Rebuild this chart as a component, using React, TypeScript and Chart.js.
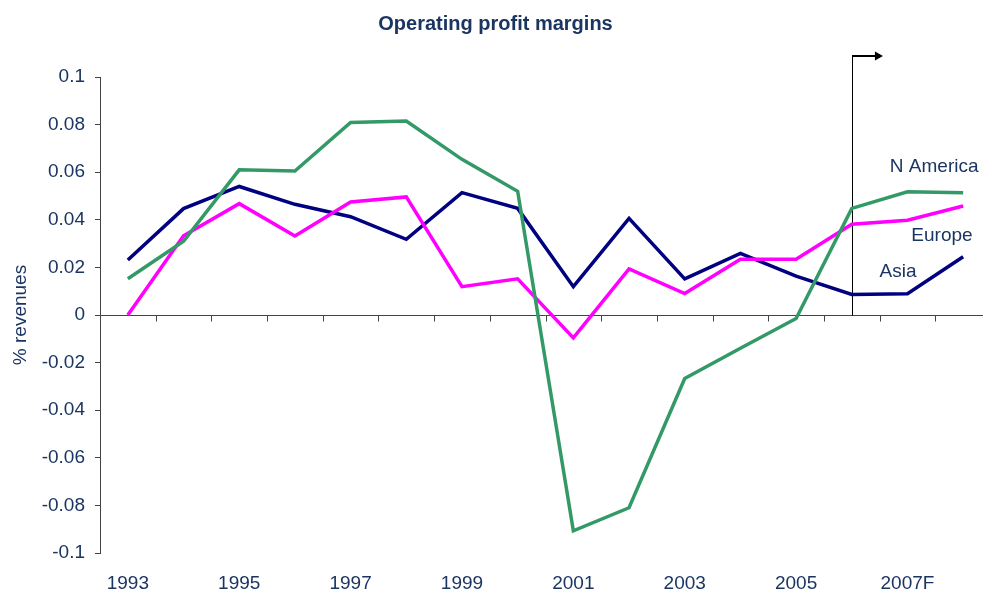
import React, { useEffect, useRef } from 'react';
import { Chart, registerables } from 'chart.js';

Chart.register(...registerables);

// ---- data ----
const years = ['1993', '1994', '1995', '1996', '1997', '1998', '1999', '2000', '2001', '2002', '2003', '2004', '2005', '2006', '2007F', '2008F'];
const nAmerica = [0.0152, 0.031, 0.061, 0.0605, 0.0809, 0.0815, 0.0654, 0.052, -0.0907, -0.081, -0.0267, -0.014, -0.0015, 0.0448, 0.0518, 0.0514];
const europe = [0, 0.0333, 0.0468, 0.0332, 0.0475, 0.0496, 0.0119, 0.0152, -0.0096, 0.0194, 0.009, 0.0234, 0.0234, 0.0381, 0.0398, 0.0458];
const asia = [0.0231, 0.0447, 0.054, 0.0465, 0.0413, 0.0318, 0.0514, 0.0448, 0.0119, 0.0406, 0.0152, 0.0259, 0.0163, 0.0086, 0.0089, 0.0245];

// series name labels: [text, x (category index), y (value)]
const seriesLabelText = ['N America', 'Europe', 'Asia'];
const seriesLabelX = [14.48, 14.62, 13.83];
const seriesLabelY = [0.0622, 0.0332, 0.0181];

// forecast marker: starts at category index, from value 0 up to top value, arrow to index
const forecastIndex = 13;
const forecastTop = 0.109;
const forecastArrowEnd = 13.56;

const NAVY_TEXT = '#1b3563';
const FONT = 'Arial, "Liberation Sans", Helvetica, sans-serif';
const AXIS = '#444444';

const overlay = {
  id: 'overlay',
  beforeDatasetsDraw(chart: any) {
    const { ctx, chartArea } = chart;
    const xs = chart.scales.x;
    const ys = chart.scales.y;
    const y0 = Math.round(ys.getPixelForValue(0)) + 0.5;
    const half = (xs.getPixelForValue(1) - xs.getPixelForValue(0)) / 2;
    ctx.save();
    // zero axis line
    ctx.strokeStyle = AXIS;
    ctx.lineWidth = 1;
    ctx.beginPath();
    ctx.moveTo(chartArea.left, y0);
    ctx.lineTo(chartArea.right, y0);
    for (let i = 0; i < years.length; i++) {
      const bx = Math.round(xs.getPixelForValue(i) + half) + 0.5;
      ctx.moveTo(bx, y0);
      ctx.lineTo(bx, y0 + 6);
    }
    ctx.stroke();
    // forecast marker
    const fx = Math.round(xs.getPixelForValue(forecastIndex)) + 0.5;
    const fTop = Math.round(ys.getPixelForValue(forecastTop));
    const fEnd = xs.getPixelForValue(forecastArrowEnd);
    ctx.strokeStyle = '#000';
    ctx.lineWidth = 1;
    ctx.beginPath();
    ctx.moveTo(fx, y0);
    ctx.lineTo(fx, fTop);
    ctx.stroke();
    ctx.lineWidth = 2;
    ctx.beginPath();
    ctx.moveTo(fx - 0.5, fTop);
    ctx.lineTo(fEnd - 6, fTop);
    ctx.stroke();
    ctx.fillStyle = '#000';
    ctx.beginPath();
    ctx.moveTo(fEnd, fTop);
    ctx.lineTo(fEnd - 8, fTop - 4.5);
    ctx.lineTo(fEnd - 8, fTop + 4.5);
    ctx.closePath();
    ctx.fill();
    ctx.restore();
  },
  afterDraw(chart: any) {
    const { ctx } = chart;
    const xs = chart.scales.x;
    const ys = chart.scales.y;
    ctx.save();
    ctx.fillStyle = NAVY_TEXT;
    ctx.font = `19px ${FONT}`;
    ctx.textAlign = 'center';
    ctx.textBaseline = 'middle';
    for (let i = 0; i < seriesLabelText.length; i++) {
      ctx.fillText(seriesLabelText[i], xs.getPixelForValue(seriesLabelX[i]), ys.getPixelForValue(seriesLabelY[i]));
    }
    ctx.restore();
  },
};

export default function App() {
  const ref = useRef<HTMLCanvasElement>(null);
  useEffect(() => {
    const chart = new Chart(ref.current as HTMLCanvasElement, {
      type: 'line',
      data: {
        labels: years,
        datasets: [
          { label: 'N America', data: nAmerica, borderColor: '#339966', backgroundColor: '#339966', borderWidth: 3.5, pointRadius: 0, tension: 0 },
          { label: 'Europe', data: europe, borderColor: '#ff00ff', backgroundColor: '#ff00ff', borderWidth: 3.5, pointRadius: 0, tension: 0 },
          { label: 'Asia', data: asia, borderColor: '#000080', backgroundColor: '#000080', borderWidth: 3.5, pointRadius: 0, tension: 0 },
        ],
      },
      options: {
        responsive: false,
        animation: false,
        devicePixelRatio: 1,
        layout: { padding: { left: 0, right: 9, top: 0, bottom: 0 } },
        plugins: {
          legend: { display: false },
          tooltip: { enabled: false },
          title: {
            display: true,
            text: 'Operating profit margins',
            color: NAVY_TEXT,
            font: { family: FONT, size: 20, weight: 'bold' },
            padding: { top: 12, bottom: 41 },
          },
        },
        scales: {
          x: {
            type: 'category',
            offset: true,
            grid: { display: false, drawTicks: false },
            border: { display: false },
            ticks: {
              autoSkip: false,
              maxRotation: 0,
              padding: 19,
              color: NAVY_TEXT,
              font: { family: FONT, size: 19 },
              callback: (_v: any, i: number) => (i % 2 === 0 ? years[i] : ''),
            },
            afterFit: (s: any) => { s.height = 39; },
          },
          y: {
            min: -0.1,
            max: 0.1,
            ticks: {
              stepSize: 0.02,
              padding: 10,
              color: NAVY_TEXT,
              font: { family: FONT, size: 19 },
              callback: (v: any) => String(Math.round(Number(v) * 100) / 100),
            },
            grid: { drawOnChartArea: false, drawTicks: true, tickLength: 5, color: AXIS },
            border: { display: true, color: AXIS, width: 1 },
            title: {
              display: true,
              text: '% revenues',
              color: NAVY_TEXT,
              font: { family: FONT, size: 19 },
              padding: { top: 9, bottom: 0 },
            },
            afterFit: (s: any) => { s.width = 100; },
          },
        },
      },
      plugins: [overlay],
    } as any);
    return () => chart.destroy();
  }, []);
  return (
    <div style={{ position: 'fixed', top: 0, left: 0, width: 983, height: 592, overflow: 'hidden', background: '#fff' }}>
      <canvas ref={ref} width={1000} height={592} style={{ display: 'block', width: 1000, height: 592 }} />
    </div>
  );
}
